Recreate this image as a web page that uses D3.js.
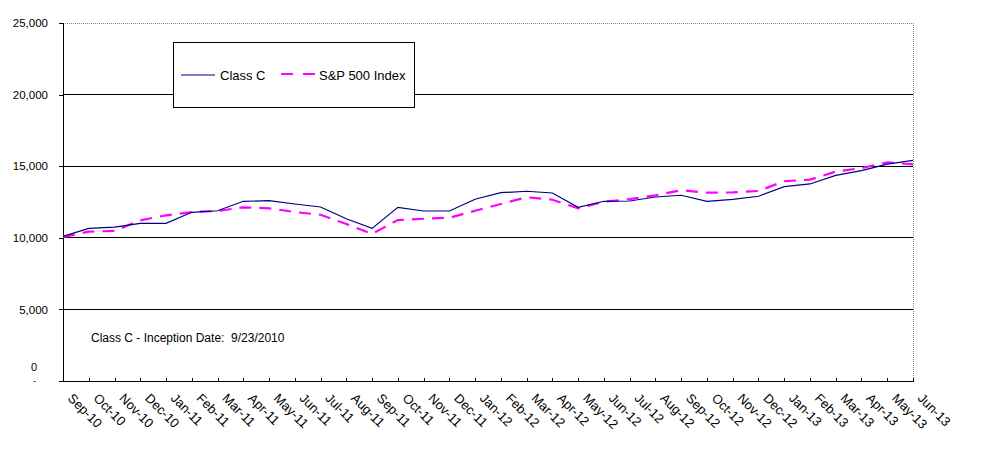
<!DOCTYPE html>
<html><head><meta charset="utf-8">
<script src="https://cdn.jsdelivr.net/npm/d3@7"></script>
<style>body{margin:0;background:#fff}svg{display:block}text{font-family:"Liberation Sans",Arial,sans-serif}</style>
</head><body><svg id="c" width="982" height="450"></svg>
<script>
const categories = ["Sep-10","Oct-10","Nov-10","Dec-10","Jan-11","Feb-11","Mar-11","Apr-11","May-11","Jun-11","Jul-11","Aug-11","Sep-11","Oct-11","Nov-11","Dec-11","Jan-12","Feb-12","Mar-12","Apr-12","May-12","Jun-12","Jul-12","Aug-12","Sep-12","Oct-12","Nov-12","Dec-12","Jan-13","Feb-13","Mar-13","Apr-13","May-13","Jun-13"];
const classC = [10100,10660,10750,11010,11010,11780,11890,12550,12590,12360,12150,11330,10660,12130,11870,11870,12690,13150,13250,13130,12130,12550,12570,12850,12970,12550,12690,12900,13570,13760,14360,14690,15150,15410];
const sp500 = [10050,10430,10480,11220,11570,11800,11870,12130,12060,11800,11610,10960,10270,11240,11330,11400,11890,12360,12830,12660,12060,12520,12700,12970,13320,13150,13170,13270,13950,14060,14620,14870,15270,15130];
const yTicks = [5000,10000,15000,20000,25000];
const seriesNames = ["Class C","S&P 500 Index"];
const note = "Class C - Inception Date:  9/23/2010";

const svg = d3.select("#c");
const L=63,R=913,T=23,B=381;
const x = d3.scalePoint().domain(categories).range([L,R]);
const y = d3.scaleLinear().domain([0,25000]).range([B,T]);
const fmt = d3.format(",");

// gridlines
svg.append("g").selectAll("line").data(yTicks.filter(d=>d<25000)).join("line")
  .attr("x1",L).attr("x2",R).attr("y1",d=>y(d)).attr("y2",d=>y(d))
  .attr("stroke","#000").attr("stroke-width",1).attr("shape-rendering","crispEdges");
// top & right dotted border
svg.append("line").attr("x1",L).attr("x2",R).attr("y1",y(25000)).attr("y2",y(25000))
  .attr("stroke","#888").attr("stroke-dasharray","1,1").attr("shape-rendering","crispEdges");
svg.append("line").attr("x1",R).attr("x2",R).attr("y1",T).attr("y2",B)
  .attr("stroke","#888").attr("stroke-dasharray","1,1").attr("shape-rendering","crispEdges");

// y axis
const ya = svg.append("g").attr("transform",`translate(${L},0)`)
  .call(d3.axisLeft(y).tickValues([0,...yTicks]).tickSize(4).tickFormat(d=>d===0?"":fmt(d)));
ya.select(".domain").attr("stroke","#000").attr("shape-rendering","crispEdges");
ya.selectAll(".tick line").attr("stroke","#000").attr("shape-rendering","crispEdges");
ya.selectAll(".tick text").attr("x",-15).attr("font-size","11.5px").attr("fill","#000").attr("font-family","Liberation Sans, Arial, sans-serif");
svg.append("text").attr("x",37).attr("y",y(0)-14).attr("dy","0.35em").attr("text-anchor","end").attr("font-size","11px").text("0");
svg.append("text").attr("x",36).attr("y",y(0)).attr("dy","0.35em").attr("text-anchor","end").attr("font-size","9px").text("-");

// x axis
const xa = svg.append("g").attr("transform",`translate(0,${B})`)
  .call(d3.axisBottom(x).tickSize(-3).tickFormat(""));
xa.select(".domain").attr("stroke","#000").attr("shape-rendering","crispEdges");
xa.selectAll(".tick line").attr("stroke","#000").attr("shape-rendering","crispEdges");
svg.append("g").selectAll("text").data(categories).join("text")
  .attr("transform",d=>`translate(${x(d)+4},${B+18}) rotate(45)`)
  .attr("font-size","13px").attr("fill","#000").text(d=>d);

// lines
const line = d3.line().x((d,i)=>x(categories[i])).y(d=>y(d));
svg.append("path").datum(sp500).attr("d",line).attr("fill","none")
  .attr("stroke","#ff00ff").attr("stroke-width",2.2).attr("stroke-dasharray","12,8");
svg.append("path").datum(classC).attr("d",line).attr("fill","none")
  .attr("stroke","#000080").attr("stroke-width",1.2);

// legend
const lg = svg.append("g");
lg.append("rect").attr("x",173.5).attr("y",42.5).attr("width",241).attr("height",65)
  .attr("fill","#fff").attr("stroke","#000").attr("stroke-width",1);
lg.append("line").attr("x1",181).attr("x2",215).attr("y1",75).attr("y2",75).attr("stroke","#000080").attr("stroke-width",1.2);
lg.append("text").attr("x",220).attr("y",75).attr("dy","0.35em").attr("font-size","13px").text(seriesNames[0]);
lg.append("line").attr("x1",281).attr("x2",315).attr("y1",74).attr("y2",74).attr("stroke","#ff00ff").attr("stroke-width",2.2).attr("stroke-dasharray","12,10");
lg.append("text").attr("x",319).attr("y",75).attr("dy","0.35em").attr("font-size","13px").text(seriesNames[1]);

// note
svg.append("text").attr("x",91).attr("y",338).attr("dy","0.35em").attr("font-size","12px").attr("xml:space","preserve").style("white-space","pre").text(note);
</script></body></html>
